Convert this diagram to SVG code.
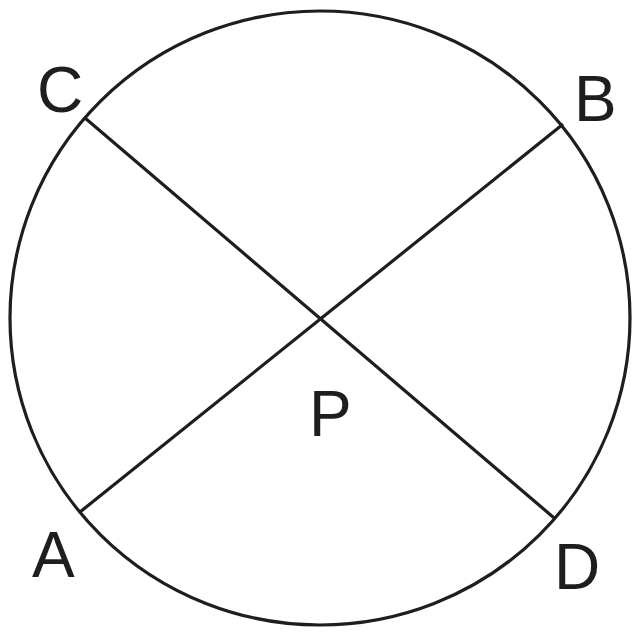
<svg xmlns="http://www.w3.org/2000/svg" width="635" height="637" viewBox="0 0 635 637">
<style>
.ln{stroke:#1e1e1e;stroke-width:3.2;fill:none;stroke-linecap:round}
.lb{font-family:"Liberation Sans",Arial,sans-serif;font-size:64px;fill:#1e1e1e}
</style>
<rect width="635" height="637" fill="#fff"/>
<g id="circle"><ellipse class="ln" cx="320" cy="318" rx="310" ry="307"/></g>
<g id="chords">
<line class="ln" x1="85" y1="118" x2="553" y2="517"/>
<line class="ln" x1="80" y1="512" x2="562" y2="125"/>
</g>
<g id="labels">
<text class="lb" x="37" y="112">C</text>
<text class="lb" x="574" y="121">B</text>
<text class="lb" x="32" y="577">A</text>
<text class="lb" x="554" y="589">D</text>
<text class="lb" x="309" y="436">P</text>
</g>
</svg>
